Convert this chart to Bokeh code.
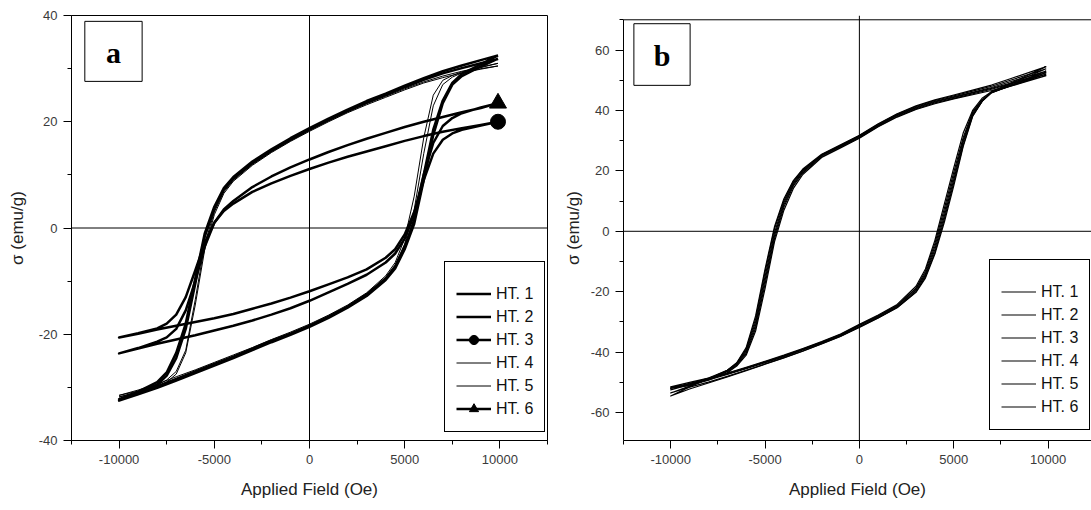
from bokeh.plotting import figure
from bokeh.layouts import row
from bokeh.models import Range1d, FixedTicker, Span, Legend, LegendItem, BoxAnnotation, Label
from bokeh.embed import file_html
from bokeh.resources import INLINE

# ---------------- data : panel a ----------------
A_UP_FIELD = [9900, 9000, 8000, 7000, 6000, 5000, 4000, 3000, 2000, 1000, 0, -1000, -2000, -3000,
              -4000, -4500, -5000, -5500, -6000, -6500, -7000, -7500, -8000, -9000, -10000]
A_LO_FIELD = [-10000, -9000, -8000, -7000, -6000, -5000, -4000, -3000, -2000, -1000, 0, 1000, 2000, 3000,
              4000, 4500, 5000, 5500, 6000, 6500, 7000, 7500, 8000, 9000, 9900]

A_HT1_UP = [32.5, 31.6, 30.6, 29.5, 28.2, 26.8, 25.3, 23.9, 22.3, 20.6, 18.8, 16.9, 14.8, 12.5,
            9.6, 7.5, 4.0, -1.0, -9.5, -18.0, -23.5, -27.2, -29.0, -30.8, -32.2]
A_HT1_LO = [-32.2, -31.0, -29.8, -28.4, -27.0, -25.6, -24.2, -22.7, -21.2, -19.9, -18.4, -16.7, -14.8, -12.5,
            -9.5, -7.2, -3.5, 1.5, 10.0, 18.5, 24.0, 27.3, 29.0, 30.8, 32.5]
A_HT2_UP = [31.8, 31.0, 30.1, 29.1, 27.9, 26.5, 25.0, 23.6, 22.0, 20.3, 18.5, 16.6, 14.5, 12.2,
            9.3, 7.2, 3.6, -1.6, -10.5, -19.0, -24.5, -27.8, -29.5, -31.2, -32.5]
A_HT2_LO = [-32.5, -31.3, -30.1, -28.7, -27.3, -25.9, -24.5, -23.0, -21.5, -20.1, -18.6, -16.9, -15.0, -12.8,
            -9.8, -7.6, -4.0, 0.8, 9.0, 17.5, 23.5, 27.0, 28.6, 30.4, 31.9]
A_HT3_UP = [20.0, 19.4, 18.8, 18.1, 17.3, 16.4, 15.4, 14.4, 13.4, 12.3, 11.1, 9.8, 8.4, 6.8,
            4.6, 3.2, 1.0, -2.8, -8.0, -13.0, -16.3, -18.0, -18.9, -19.8, -20.6]
A_HT3_LO = [-20.6, -19.9, -19.1, -18.4, -17.7, -17.0, -16.2, -15.2, -14.2, -13.1, -11.9, -10.6, -9.3, -7.8,
            -5.6, -4.0, -1.2, 3.0, 9.0, 14.0, 16.6, 17.8, 18.5, 19.3, 20.0]
A_HT4_UP = [31.0, 30.3, 29.5, 28.6, 27.5, 26.2, 24.8, 23.4, 21.9, 20.2, 18.4, 16.5, 14.4, 12.0,
            9.0, 6.8, 3.0, -3.0, -13.5, -23.0, -27.0, -28.6, -29.6, -30.7, -31.5]
A_HT4_LO = [-31.5, -30.5, -29.4, -28.0, -26.7, -25.3, -23.9, -22.5, -21.0, -19.6, -18.1, -16.4, -14.5, -12.2,
            -9.0, -6.5, -2.0, 6.0, 17.0, 25.0, 27.8, 28.7, 29.4, 30.2, 31.0]
A_HT5_UP = [30.5, 29.9, 29.2, 28.3, 27.3, 26.0, 24.6, 23.2, 21.7, 20.0, 18.2, 16.3, 14.2, 11.8,
            8.8, 6.5, 2.5, -4.0, -14.5, -23.5, -27.5, -29.0, -30.0, -31.0, -31.8]
A_HT5_LO = [-31.8, -30.8, -29.7, -28.4, -27.0, -25.6, -24.2, -22.8, -21.3, -19.9, -18.4, -16.6, -14.7, -12.4,
            -9.3, -7.0, -3.0, 3.5, 14.0, 23.0, 27.0, 28.4, 29.2, 30.0, 30.5]
A_HT6_UP = [23.5, 22.6, 21.8, 20.9, 20.0, 19.0, 17.9, 16.8, 15.6, 14.3, 12.9, 11.4, 9.7, 7.7,
            5.1, 3.5, 1.0, -3.5, -10.0, -15.5, -19.0, -20.6, -21.4, -22.6, -23.6]
A_HT6_LO = [-23.6, -22.7, -21.8, -21.0, -20.2, -19.3, -18.4, -17.4, -16.3, -15.1, -13.7, -12.1, -10.5, -8.8,
            -6.5, -4.8, -2.0, 2.5, 10.0, 16.0, 19.2, 20.7, 21.6, 22.7, 23.5]

# ---------------- data : panel b ----------------
B_UP_FIELD = [9900, 8000, 7000, 6000, 5000, 4000, 3000, 2000, 1000, 0, -1000, -2000, -3000, -3500,
              -4000, -4500, -5000, -5500, -6000, -6500, -7000, -8000, -9000, -10000]
B_LO_FIELD = [-10000, -9000, -8000, -7000, -6000, -5000, -4000, -3000, -2000, -1000, 0, 1000, 2000, 3000,
              3500, 4000, 4500, 5000, 5500, 6000, 6500, 7000, 8000, 9900]

B_HT1_UP = [53.0, 49.5, 47.6, 46.0, 44.5, 43.0, 41.0, 38.5, 35.2, 31.5, 28.3, 25.2, 20.0, 16.0,
            9.5, -0.5, -15.0, -30.0, -39.5, -43.8, -46.0, -48.6, -50.6, -52.5]
B_HT1_LO = [-52.5, -50.8, -49.2, -47.4, -45.5, -43.5, -41.5, -39.3, -37.0, -34.5, -31.5, -28.5, -25.0, -19.5,
            -14.5, -6.0, 5.0, 17.0, 29.5, 38.5, 43.0, 45.8, 48.3, 53.0]
B_HT2_UP = [54.5, 50.5, 48.4, 46.7, 45.1, 43.5, 41.5, 38.9, 35.6, 31.8, 28.6, 25.5, 20.6, 16.8,
            10.8, 1.5, -12.5, -28.0, -38.5, -43.5, -46.0, -48.9, -51.2, -53.5]
B_HT2_LO = [-53.5, -51.6, -49.9, -48.0, -46.0, -43.9, -41.8, -39.6, -37.2, -34.7, -31.8, -28.7, -25.3, -20.2,
            -15.5, -7.5, 3.0, 15.0, 28.0, 38.0, 43.0, 46.2, 49.0, 54.5]
B_HT3_UP = [52.0, 48.8, 47.0, 45.5, 44.0, 42.5, 40.5, 38.0, 34.8, 31.0, 27.8, 24.7, 19.3, 15.0,
            8.0, -2.5, -17.5, -32.0, -40.5, -44.3, -46.5, -49.0, -51.0, -52.0]
B_HT3_LO = [-52.0, -50.5, -48.9, -47.1, -45.2, -43.2, -41.2, -39.0, -36.7, -34.2, -31.0, -28.0, -24.5, -18.8,
            -13.2, -4.0, 7.5, 19.5, 31.0, 39.5, 43.5, 46.0, 48.0, 52.0]
B_HT4_UP = [51.5, 48.3, 46.6, 45.2, 43.8, 42.2, 40.3, 37.8, 34.6, 30.8, 27.6, 24.4, 18.8, 14.2,
            7.0, -3.5, -19.0, -33.0, -41.0, -44.6, -46.8, -49.3, -51.0, -51.5]
B_HT4_LO = [-51.5, -50.0, -48.6, -46.9, -45.0, -43.0, -41.0, -38.8, -36.5, -34.0, -30.8, -27.7, -24.2, -18.2,
            -12.5, -3.0, 9.0, 21.0, 32.5, 40.0, 44.0, 46.2, 48.0, 51.5]
B_HT5_UP = [53.8, 50.0, 48.0, 46.4, 44.8, 43.3, 41.3, 38.7, 35.4, 31.6, 28.4, 25.3, 20.3, 16.5,
            10.2, 0.8, -13.5, -29.0, -39.0, -43.6, -46.2, -48.8, -51.5, -54.5]
B_HT5_LO = [-54.5, -52.2, -50.2, -48.2, -46.1, -44.0, -41.9, -39.7, -37.3, -34.8, -31.7, -28.6, -25.2, -20.0,
            -15.0, -7.0, 4.0, 16.0, 28.5, 38.2, 43.0, 46.0, 48.7, 53.8]
B_HT6_UP = [52.5, 49.0, 47.3, 45.8, 44.3, 42.8, 40.8, 38.3, 35.0, 31.3, 28.1, 25.0, 19.7, 15.5,
            8.8, -1.5, -16.2, -31.0, -40.0, -44.0, -46.3, -48.8, -50.8, -51.8]
B_HT6_LO = [-51.8, -50.3, -48.8, -47.2, -45.3, -43.3, -41.3, -39.1, -36.8, -34.3, -31.2, -28.2, -24.7, -19.0,
            -14.0, -5.0, 6.2, 18.2, 30.2, 39.0, 43.3, 45.9, 48.2, 52.5]

SERIES_NAMES = ["HT. 1", "HT. 2", "HT. 3", "HT. 4", "HT. 5", "HT. 6"]

X_TICKS = [-10000, -5000, 0, 5000, 10000]
X_TICK_LABELS = ["-10000", "-5000", "0", "5000", "10000"]
X_MINOR = [-12500, -7500, -2500, 2500, 7500, 12500]
A_Y_TICKS = [-40, -20, 0, 20, 40]
A_Y_TICK_LABELS = ["-40", "-20", "0", "20", "40"]
A_Y_MINOR = [-30, -10, 10, 30]
B_Y_TICKS = [-60, -40, -20, 0, 20, 40, 60]
B_Y_TICK_LABELS = ["-60", "-40", "-20", "0", "20", "40", "60"]
B_Y_MINOR = [-70, -50, -30, -10, 10, 30, 50, 70]

X_LABEL = "Applied Field (Oe)"
Y_LABEL = "σ (emu/g)"

FONT = "Liberation Sans"
INK = "black"


def style_axes(p, xt, xl, xm, yt, yl, ym, ylab_standoff):
    p.xaxis.ticker = FixedTicker(ticks=xt, minor_ticks=xm)
    p.xaxis.major_label_overrides = {t: s for t, s in zip(xt, xl)}
    p.yaxis.ticker = FixedTicker(ticks=yt, minor_ticks=ym)
    p.yaxis.major_label_overrides = {t: s for t, s in zip(yt, yl)}
    for ax in (p.xaxis[0], p.yaxis[0]):
        ax.axis_line_color = INK
        ax.axis_line_width = 1
        ax.major_tick_line_color = INK
        ax.minor_tick_line_color = INK
        ax.major_tick_out = 8
        ax.major_tick_in = 0
        ax.minor_tick_out = 4
        ax.minor_tick_in = 0
        ax.major_label_text_font = FONT
        ax.major_label_text_font_size = "13px"
        ax.major_label_text_color = "#3a3a3a"
        ax.axis_label_text_font = FONT
        ax.axis_label_text_font_size = "17px"
        ax.axis_label_text_font_style = "normal"
        ax.axis_label_text_color = "#222222"
    p.xaxis.major_label_standoff = 6
    p.yaxis.major_label_standoff = 6
    p.xaxis.axis_label = X_LABEL
    p.yaxis.axis_label = Y_LABEL
    p.xaxis.axis_label_standoff = 13
    p.yaxis.axis_label_standoff = ylab_standoff
    p.xgrid.visible = False
    p.ygrid.visible = False
    p.add_layout(Span(location=0, dimension="height", line_color=INK, line_width=1))
    p.add_layout(Span(location=0, dimension="width", line_color=INK, line_width=1))


def style_legend(p, items, loc):
    leg = Legend(items=items, location=loc, orientation="vertical")
    leg.border_line_color = INK
    leg.border_line_width = 1
    leg.border_line_alpha = 1
    leg.background_fill_color = "white"
    leg.background_fill_alpha = 1
    leg.label_text_font = FONT
    leg.label_text_font_size = "16px"
    leg.label_text_color = "#111111"
    leg.glyph_width = 35
    leg.glyph_height = 23
    leg.label_height = 23
    leg.label_standoff = 5
    leg.spacing = 0
    leg.padding = 11
    leg.margin = 0
    leg.title = " "
    leg.title_text_font_size = "5px"
    leg.title_standoff = 3
    p.add_layout(leg)


H = 508

# ---------------- panel a ----------------
pa = figure(width=560, height=H, output_backend="svg", toolbar_location=None,
            x_range=Range1d(-12500, 12500), y_range=Range1d(-40, 40),
            min_border_left=71, min_border_right=13, min_border_top=15, min_border_bottom=68)
pa.outline_line_color = INK
pa.outline_line_width = 1
pa.outline_line_alpha = 1
pa.background_fill_color = "white"
pa.border_fill_color = "white"
style_axes(pa, X_TICKS, X_TICK_LABELS, X_MINOR, A_Y_TICKS, A_Y_TICK_LABELS, A_Y_MINOR, 9)

a_series = [(A_HT1_UP, A_HT1_LO, 2.5), (A_HT2_UP, A_HT2_LO, 2.5), (A_HT3_UP, A_HT3_LO, 2.5),
            (A_HT4_UP, A_HT4_LO, 1.0), (A_HT5_UP, A_HT5_LO, 1.0), (A_HT6_UP, A_HT6_LO, 2.5)]
a_items = []
for name, (up, lo, lw) in zip(SERIES_NAMES, a_series):
    r = pa.line(A_UP_FIELD + A_LO_FIELD, up + lo, line_color=INK, line_width=lw, line_join="round")
    rends = [r]
    if name == "HT. 3":
        rends.append(pa.scatter([A_UP_FIELD[0]], [up[0]], marker="circle", size=15,
                                fill_color=INK, line_color=INK))
    if name == "HT. 6":
        rends.append(pa.scatter([A_UP_FIELD[0]], [up[0]], marker="triangle", size=17,
                                fill_color=INK, line_color=INK))
    a_items.append(LegendItem(label=name, renderers=rends))
style_legend(pa, a_items, (373, 8))

pa.add_layout(BoxAnnotation(left=-11800, right=-8790, top=38.9, bottom=27.6,
                            fill_alpha=0, line_color=INK, line_alpha=1, line_width=1))
pa.add_layout(Label(x=-10295, y=33.0, text="a", text_align="center", text_baseline="middle",
                    text_font="Liberation Serif", text_font_style="bold", text_font_size="30px",
                    text_color=INK))

# ---------------- panel b ----------------
pb = figure(width=1091 - 560, height=H, output_backend="svg", toolbar_location=None,
            x_range=Range1d(-12500, 12300), y_range=Range1d(-69.24, 71.42),
            min_border_left=62, min_border_right=0, min_border_top=15, min_border_bottom=68)
pb.outline_line_color = None
pb.background_fill_color = "white"
pb.border_fill_color = "white"
style_axes(pb, X_TICKS, X_TICK_LABELS, X_MINOR, B_Y_TICKS, B_Y_TICK_LABELS, B_Y_MINOR, 5)
pb.yaxis.bounds = (-70, 70)
pb.add_layout(Span(location=70, dimension="width", line_color=INK, line_width=1))

b_series = [(B_HT1_UP, B_HT1_LO), (B_HT2_UP, B_HT2_LO), (B_HT3_UP, B_HT3_LO),
            (B_HT4_UP, B_HT4_LO), (B_HT5_UP, B_HT5_LO), (B_HT6_UP, B_HT6_LO)]
b_items = []
for name, (up, lo) in zip(SERIES_NAMES, b_series):
    r = pb.line(B_UP_FIELD + B_LO_FIELD, up + lo, line_color=INK, line_width=1.2, line_join="round")
    b_items.append(LegendItem(label=name, renderers=[r]))
style_legend(pb, b_items, (366, 10))

pb.add_layout(BoxAnnotation(left=-11950, right=-8970, top=68.7, bottom=48.3,
                            fill_alpha=0, line_color=INK, line_alpha=1, line_width=1))
pb.add_layout(Label(x=-10460, y=58.3, text="b", text_align="center", text_baseline="middle",
                    text_font="Liberation Serif", text_font_style="bold", text_font_size="30px",
                    text_color=INK))

layout = row(pa, pb)
open("out.html", "w").write(file_html(layout, INLINE))
